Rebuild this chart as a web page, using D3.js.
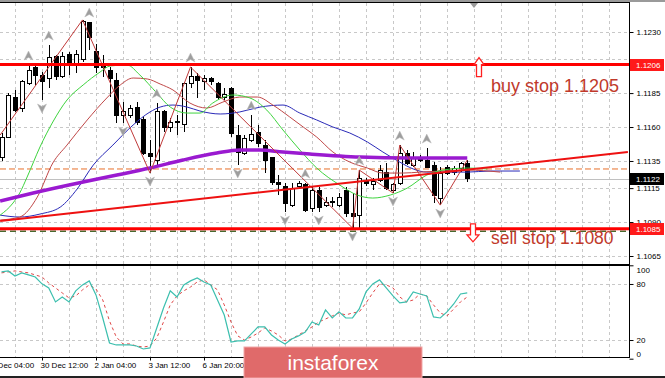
<!DOCTYPE html>
<html>
<head>
<meta charset="utf-8">
<script src="https://cdn.jsdelivr.net/npm/d3@7"></script>
<style>
  body { margin: 0; background: #fff; }
  svg { display: block; font-family: "Liberation Sans", Arial, sans-serif; }
</style>
</head>
<body>
<svg id="chart" width="665" height="378"></svg>
<script>
// EURUSD H4 candles
const opens = [1.11372,1.11526,1.11821,1.11740,1.11924,1.12035,1.11976,1.11961,1.12116,1.11969,
  1.12131,1.12057,1.12094,1.12367,1.12153,1.12050,1.12020,1.11946,1.11688,1.11688,
  1.11747,1.11652,1.11408,1.11357,1.11711,1.11593,1.11644,1.11615,1.11924,1.11969,
  1.11939,1.11954,1.11924,1.11814,1.11887,1.11541,1.11408,1.11504,1.11563,1.11467,
  1.11372,1.11195,1.11165,1.11025,1.11165,1.11173,1.11003,1.11136,1.11025,1.11055,
  1.11025,1.11136,1.10966,1.10951,1.11209,1.11173,1.11209,1.11268,1.11136,1.11187,
  1.11408,1.11320,1.11364,1.11357,1.11320,1.11077,1.11305,1.11268,1.11298,1.11335];
const highs = [1.11556,1.11851,1.11873,1.11946,1.12057,1.12057,1.12005,1.12204,1.12131,1.12153,
  1.12153,1.12168,1.12389,1.12374,1.12212,1.12131,1.12042,1.11998,1.11784,1.11762,
  1.11784,1.11674,1.11504,1.11777,1.11725,1.11666,1.11688,1.11932,1.12042,1.11998,
  1.11983,1.11969,1.11932,1.11887,1.11895,1.11615,1.11541,1.11688,1.11615,1.11504,
  1.11379,1.11246,1.11187,1.11187,1.11202,1.11187,1.11165,1.11158,1.11084,1.11084,
  1.11114,1.11158,1.11114,1.11283,1.11224,1.11224,1.11320,1.11335,1.11187,1.11467,
  1.11431,1.11416,1.11394,1.11445,1.11342,1.11305,1.11320,1.11313,1.11342,1.11357];
const lows = [1.11349,1.11519,1.11711,1.11711,1.11910,1.11910,1.11799,1.11887,1.11946,1.11961,
  1.11983,1.11998,1.12079,1.12168,1.11998,1.11969,1.11821,1.11630,1.11630,1.11666,
  1.11615,1.11394,1.11261,1.11320,1.11563,1.11563,1.11541,1.11563,1.11887,1.11814,
  1.11873,1.11910,1.11799,1.11799,1.11526,1.11320,1.11394,1.11490,1.11453,1.11261,
  1.11173,1.11099,1.10974,1.11010,1.11143,1.10974,1.10974,1.10974,1.11010,1.11010,
  1.11010,1.10937,1.10856,1.10856,1.11165,1.11136,1.11195,1.11136,1.11114,1.11173,
  1.11320,1.11305,1.11342,1.11298,1.11040,1.11025,1.11246,1.11246,1.11268,1.11195];
const closes = [1.11526,1.11829,1.11725,1.11932,1.12020,1.11983,1.11939,1.12109,1.11969,1.12123,
  1.12072,1.12131,1.12374,1.12256,1.12035,1.12042,1.11961,1.11688,1.11711,1.11733,
  1.11630,1.11408,1.11386,1.11718,1.11593,1.11630,1.11630,1.11924,1.11969,1.11946,
  1.11961,1.11932,1.11821,1.11843,1.11556,1.11416,1.11519,1.11548,1.11482,1.11357,
  1.11195,1.11173,1.11040,1.11150,1.11187,1.10988,1.11136,1.11010,1.11047,1.11055,
  1.11084,1.10966,1.10944,1.11224,1.11187,1.11202,1.11283,1.11150,1.11173,1.11408,
  1.11335,1.11372,1.11364,1.11305,1.11099,1.11261,1.11261,1.11291,1.11335,1.11220];

// moving averages as [bar, price]
const maFast = [[-0.2,1.10951],[1.7,1.11040],[2.7,1.11114],[3.8,1.11232],[5.7,1.11453],[7.6,1.11637],
  [9.7,1.11799],[12.1,1.11910],[14.6,1.12005],[16.1,1.12050],[18.6,1.12057],[20.5,1.11983],
  [23,1.11851],[25,1.11747],[27.5,1.11703],[29.4,1.11703],[31.3,1.11777],[34.3,1.11836],
  [36.8,1.11814],[39.3,1.11725],[41.7,1.11578],[44.2,1.11431],[46.7,1.11298],[50.1,1.11173],
  [52.7,1.11099],[55,1.11077],[57.6,1.11099],[60.1,1.11150],[63,1.11246],[65.4,1.11283],
  [69,1.11298],[72,1.11291]];
const maMid = [[-0.2,1.10915],[2.7,1.10937],[5.3,1.11084],[7.6,1.11335],[9.7,1.11467],[12.7,1.11652],
  [15.6,1.11814],[17.6,1.11910],[19.5,1.11961],[21.6,1.11954],[23.5,1.11917],[25.4,1.11873],
  [27.9,1.11777],[30.4,1.11740],[32.8,1.11784],[35.3,1.11821],[37.9,1.11821],[40.2,1.11762],
  [42.7,1.11674],[44.7,1.11600],[46.7,1.11526],[49.1,1.11416],[51.6,1.11342],[54.2,1.11298],
  [56.5,1.11261],[59.5,1.11261],[62,1.11268],[65,1.11276],[69,1.11283],[73.9,1.11268]];
const maSlow = [[-0.2,1.10951],[2.7,1.10937],[5.7,1.10959],[8.7,1.11010],[11.2,1.11143],[13.6,1.11320],
  [16.5,1.11467],[19.5,1.11615],[22,1.11711],[23.5,1.11747],[25.4,1.11762],[27.5,1.11747],
  [29.4,1.11718],[32.4,1.11696],[35.3,1.11711],[38.3,1.11747],[41.7,1.11762],[44.2,1.11703],
  [46.7,1.11652],[49.1,1.11600],[51.6,1.11556],[54.2,1.11490],[56.5,1.11416],[59,1.11342],
  [61,1.11291],[63,1.11268],[66,1.11268],[69,1.11268],[72.4,1.11276],[76.8,1.11276]];
const maLong = [[-0.2,1.11055],[4.7,1.11114],[12.1,1.11195],[17.1,1.11246],[22,1.11298],[26.9,1.11357],
  [31.9,1.11408],[35.3,1.11431],[38.3,1.11431],[41.7,1.11416],[45.7,1.11401],[53.1,1.11379],
  [60.5,1.11372],[69,1.11372]];

// zigzag turning points [bar, price]
const zigzag = [[-0.2,1.11541],[12,1.12389],[22,1.11261],[28,1.12042],[52,1.10856],[53,1.11283],
  [58,1.11114],[59,1.11467],[65,1.11025],[69,1.11357]];
// fractal bars
const fractalUp = [4,7,13,23,28,37,45,53,59,63];
const fractalDown = [6,18,22,35,42,47,52,58,65];

// levels
const buyLevel = 1.1206, sellLevel = 1.1085, dashLevel = 1.11291, lastPrice = 1.1122;
const trendLine = [[-0.2,1.10908],[92.8,1.11416]];
const buyText = "buy stop 1.1205", sellText = "sell stop 1.1080";

// stochastic, one value per bar
const stochMain = [92.9,94.0,88.6,91.9,89.7,87.5,80.1,75.8,60.8,66.1,60.8,72.6,79.0,83.3,68.3,43.6,16.8,14.7,14.7,14.7,
  13.6,10.4,11.5,32.9,54.3,72.6,66.1,79.0,83.3,86.5,82.2,79.0,62.9,46.8,17.9,19.0,19.0,26.5,34.0,34.0,
  25.4,20.0,15.8,21.1,24.4,28.6,39.3,36.1,52.2,43.6,50.1,43.6,43.6,53.3,71.5,80.1,84.4,75.8,67.2,59.7,
  60.8,71.5,69.3,67.2,44.7,43.6,50.1,58.6,69.3,70.4];
const stochSignal = [91.9,92.9,94.0,92.9,91.9,89.7,87.5,81.1,75.8,70.4,65.1,67.2,73.7,79.0,74.7,62.9,40.4,23.3,15.8,15.8,
  13.6,12.5,13.6,22.2,39.3,57.6,67.2,72.6,76.8,82.2,84.4,79.0,73.7,57.6,39.3,24.4,20.0,23.3,27.5,32.9,
  29.7,25.4,19.0,21.1,25.4,29.7,34.0,39.3,42.5,45.8,49.0,46.8,49.0,50.1,59.7,70.4,80.1,79.0,75.8,66.1,
  60.8,62.9,69.3,67.2,57.6,49.0,45.8,53.3,60.8,66.1];

// axes
const priceTicks = [1.1065,1.1090,1.1115,1.1135,1.1160,1.1185,1.1230];
const gridPrices = [1.1065,1.1090,1.1115,1.1135,1.1160,1.1185,1.1210,1.1230];
const stochTicks = [0,20,80,100];
const timeBars = [-2,6,14,22,30,38,46,54,62];
const timeLabels = ["29 Dec 04:00","30 Dec 12:00","2 Jan 04:00","3 Jan 12:00","6 Jan 20:00",
  "8 Jan 04:00","9 Jan 12:00","10 Jan 20:00","14 Jan 04:00"];

const svg = d3.select("#chart");
const W = 665, H = 378, plotR = 629, mainTop = 3, mainBot = 264, subTop = 266, subBot = 357;
const wmX0 = 244, wmX1 = 422;

const x = d3.scaleLinear().domain([0, 69]).range([1.5, 467.25]);
const y = d3.scaleLinear().domain([1.1065, 1.1230]).range([256, 32]);
const ys = d3.scaleLinear().domain([0, 100]).range([358.7, 265.3]);

svg.append("rect").attr("width", W).attr("height", H).attr("fill", "#fff");

const defs = svg.append("defs");
defs.append("clipPath").attr("id", "clipMain").append("rect")
  .attr("x", 0).attr("y", mainTop).attr("width", plotR).attr("height", mainBot - mainTop);
defs.append("clipPath").attr("id", "clipSub").append("rect")
  .attr("x", 0).attr("y", subTop).attr("width", plotR).attr("height", subBot - subTop);

// grid
const gridBars = d3.range(-2, 94, 4);
const grid = svg.append("g").attr("stroke", "#c8c8c8").attr("stroke-dasharray", "3,3").attr("shape-rendering", "crispEdges");
gridBars.forEach(b => {
  const gx = Math.round(x(b)) + 0.5;
  if (gx < 0 || gx > plotR) return;
  grid.append("line").attr("x1", gx).attr("x2", gx).attr("y1", mainTop).attr("y2", mainBot);
  grid.append("line").attr("x1", gx).attr("x2", gx).attr("y1", subTop).attr("y2", subBot);
});
gridPrices.forEach(p => {
  const gy = Math.round(y(p)) + 0.5;
  grid.append("line").attr("x1", 0).attr("x2", plotR).attr("y1", gy).attr("y2", gy);
});
[20, 80].forEach(v => {
  const gy = Math.round(ys(v)) + 0.5;
  grid.append("line").attr("x1", 0).attr("x2", plotR).attr("y1", gy).attr("y2", gy);
});

// main panel
const main = svg.append("g").attr("clip-path", "url(#clipMain)");

main.append("line").attr("x1", 0).attr("x2", plotR)
  .attr("y1", y(dashLevel)).attr("y2", y(dashLevel))
  .attr("stroke", "#e8702a").attr("stroke-dasharray", "6,3");
main.append("line").attr("x1", 0).attr("x2", plotR)
  .attr("y1", Math.round(y(lastPrice)) + 0.5).attr("y2", Math.round(y(lastPrice)) + 0.5)
  .attr("stroke", "#c0c0c0");

// candles
const bars = d3.range(opens.length);
bars.forEach(i => {
  const cx = Math.round(x(i)) + 0.5;
  main.append("line").attr("x1", cx).attr("x2", cx)
    .attr("y1", y(highs[i])).attr("y2", y(lows[i]))
    .attr("stroke", "#000").attr("shape-rendering", "crispEdges");
  const top = Math.min(y(opens[i]), y(closes[i]));
  const h = Math.max(Math.abs(y(opens[i]) - y(closes[i])), 1);
  main.append("rect").attr("x", cx - 2).attr("y", top).attr("width", 4).attr("height", h)
    .attr("fill", closes[i] >= opens[i] ? "#fff" : "#000")
    .attr("stroke", "#000").attr("shape-rendering", "crispEdges");
});

const maLine = d3.line().x(d => x(d[0])).y(d => y(d[1])).curve(d3.curveMonotoneX);
main.append("path").attr("d", maLine(maSlow)).attr("fill", "none").attr("stroke", "#2a2ab8").attr("stroke-width", 1);
main.append("path").attr("d", maLine(maMid)).attr("fill", "none").attr("stroke", "#c04848").attr("stroke-width", 1);
main.append("path").attr("d", maLine(maFast)).attr("fill", "none").attr("stroke", "#3ed43e").attr("stroke-width", 1);
main.append("path").attr("d", maLine(maLong)).attr("fill", "none").attr("stroke", "#9a1ad0").attr("stroke-width", 3.5);

main.append("path").attr("d", d3.line().x(d => x(d[0])).y(d => y(d[1]))(zigzag))
  .attr("fill", "none").attr("stroke", "#c03a3a").attr("stroke-width", 1);

main.append("path").attr("d", d3.line().x(d => x(d[0])).y(d => y(d[1]))(trendLine))
  .attr("fill", "none").attr("stroke", "#ee1111").attr("stroke-width", 2);

// horizontal stop levels
main.append("line").attr("x1", 0).attr("x2", plotR)
  .attr("y1", y(sellLevel) + 2.5).attr("y2", y(sellLevel) + 2.5)
  .attr("stroke", "#4a6a30").attr("stroke-dasharray", "6,4").attr("stroke-width", 1.5);
[buyLevel, sellLevel].forEach(p => {
  main.append("line").attr("x1", 0).attr("x2", plotR).attr("y1", y(p)).attr("y2", y(p))
    .attr("stroke", "#ff0000").attr("stroke-width", 3);
});

// fractal arrows
const arrowUp = "M0,-5 L4.5,4 L0,1.5 L-4.5,4 Z";
fractalUp.forEach(i => {
  main.append("path").attr("d", arrowUp)
    .attr("transform", `translate(${x(i)},${y(highs[i]) - 9})`)
    .attr("fill", "#9e9e9e").attr("stroke", "#bdbdbd").attr("stroke-width", 0.5);
});
fractalDown.forEach(i => {
  main.append("path").attr("d", arrowUp)
    .attr("transform", `translate(${x(i)},${y(lows[i]) + 8}) rotate(180)`)
    .attr("fill", "#9e9e9e").attr("stroke", "#bdbdbd").attr("stroke-width", 0.5);
});

// shift marker
svg.append("path").attr("d", "M-4,3 L4,3 L0,8 Z")
  .attr("transform", `translate(${x(70)},0)`).attr("fill", "#9a9a9a");

// annotations
const by = y(buyLevel);
svg.append("path")
  .attr("d", `M479,${by - 7} L484,${by} L481.5,${by} L481.5,${by + 12} L476.5,${by + 12} L476.5,${by} L474,${by} Z`)
  .attr("fill", "#fff").attr("stroke", "#ff2020").attr("stroke-width", 1.3);
svg.append("text").attr("x", 491).attr("y", 92).attr("font-size", 18)
  .attr("fill", "#c0392b").text(buyText);
const sy = y(sellLevel);
svg.append("path")
  .attr("d", `M470.5,${sy - 5} L475.5,${sy - 5} L475.5,${sy + 6} L479,${sy + 6} L473,${sy + 13} L467,${sy + 6} L470.5,${sy + 6} Z`)
  .attr("fill", "#fff").attr("stroke", "#ff2020").attr("stroke-width", 1.3);
svg.append("text").attr("x", 491).attr("y", 244).attr("font-size", 17.5)
  .attr("fill", "#c0392b").text(sellText);

// stochastic panel
const sub = svg.append("g").attr("clip-path", "url(#clipSub)");
const stLine = d3.line().x((d, i) => x(i)).y(d => ys(d));
sub.append("path").attr("d", stLine(stochSignal)).attr("fill", "none")
  .attr("stroke", "#e04848").attr("stroke-dasharray", "3,3").attr("stroke-width", 1);
sub.append("path").attr("d", stLine(stochMain)).attr("fill", "none")
  .attr("stroke", "#3cbfae").attr("stroke-width", 1.2);

// frame
svg.append("rect").attr("x", 0).attr("y", 0).attr("width", W).attr("height", 2).attr("fill", "#9a9a9a");
svg.append("line").attr("x1", 0).attr("x2", plotR + 1).attr("y1", 2.5).attr("y2", 2.5).attr("stroke", "#000");
svg.append("rect").attr("x", 0).attr("y", mainBot).attr("width", plotR + 1).attr("height", 2).attr("fill", "#000");
svg.append("line").attr("x1", 0).attr("x2", plotR + 1).attr("y1", subBot + 0.5).attr("y2", subBot + 0.5).attr("stroke", "#000");
svg.append("rect").attr("x", 0).attr("y", 376).attr("width", W).attr("height", 2).attr("fill", "#222");

// price axis
const pAxis = svg.append("g").attr("transform", `translate(${plotR + 0.5},0)`)
  .call(d3.axisRight(y).tickValues(priceTicks).tickSize(4).tickFormat(d3.format(".4f")));
const sAxis = svg.append("g").attr("transform", `translate(${plotR + 0.5},0)`)
  .call(d3.axisRight(ys).tickValues(stochTicks).tickSize(4).tickFormat(d3.format("d")));
[pAxis, sAxis].forEach(a => {
  a.select(".domain").remove();
  a.selectAll("text").attr("font-size", 8).attr("fill", "#000").attr("x", 7)
    .attr("font-family", "Liberation Sans, Arial, sans-serif");
  a.selectAll("line").attr("stroke", "#000");
});
svg.append("line").attr("x1", plotR + 0.5).attr("x2", plotR + 0.5).attr("y1", 2).attr("y2", subBot + 1).attr("stroke", "#000");
sAxis.selectAll(".tick").filter(d => d === 100).select("text").attr("dy", "0.9em");
sAxis.selectAll(".tick").filter(d => d === 0).select("text").attr("dy", "-0.3em");

// price boxes
function priceBox(p, fill) {
  const g = svg.append("g").attr("transform", `translate(${plotR + 1},${Math.round(y(p))})`);
  g.append("rect").attr("x", 0).attr("y", -6).attr("width", 34).attr("height", 12).attr("fill", fill);
  g.append("text").attr("x", 6).attr("y", 3).attr("font-size", 8).attr("fill", "#fff").text(d3.format(".4f")(p));
}
priceBox(buyLevel, "#ff1a1a");
priceBox(sellLevel, "#ff1a1a");
priceBox(lastPrice, "#000");

// time axis (labels sitting under the watermark are not visible)
const tAxis = svg.append("g").attr("transform", `translate(0,${subBot + 0.5})`)
  .call(d3.axisBottom(x).tickValues(timeBars).tickSize(3)
    .tickFormat((d, i) => (x(d) > wmX0 && x(d) < wmX1) ? "" : timeLabels[i]));
tAxis.select(".domain").remove();
tAxis.selectAll("line").attr("stroke", "#000");
tAxis.selectAll("text").attr("font-size", 8).attr("fill", "#000").attr("text-anchor", "start")
  .attr("dx", -2).attr("y", 5).attr("font-family", "Liberation Sans, Arial, sans-serif");

// watermark
svg.append("rect").attr("x", wmX0).attr("y", 347).attr("width", wmX1 - wmX0).attr("height", 31)
  .attr("fill", "#e06a6a").attr("stroke", "#f2a8a8").attr("stroke-width", 1);
svg.append("text").attr("x", 333).attr("y", 370).attr("text-anchor", "middle")
  .attr("font-size", 21).attr("fill", "#fff").text("instaforex");
</script>
</body>
</html>
